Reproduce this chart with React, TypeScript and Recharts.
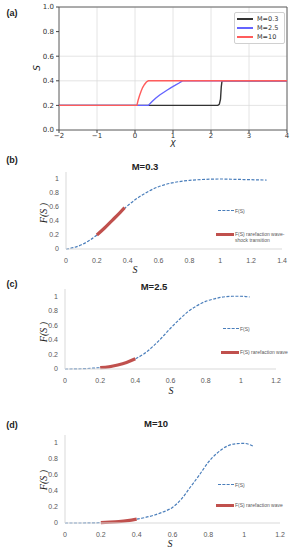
import React from "react";
import { LineChart, Line, XAxis, YAxis, CartesianGrid, ReferenceArea } from "recharts";

// ---- panel (a): saturation profiles S(X)
const A_X_TICKS = [-2, -1, 0, 1, 2, 3, 4];
const A_Y_TICKS = [0, 0.2, 0.4, 0.6, 0.8, 1.0];
const A_M03_X = [-2, 2.18, 2.22, 2.25, 2.27, 2.29, 4];
const A_M03_Y = [0.2, 0.2, 0.21, 0.25, 0.35, 0.4, 0.4];
const A_M25_X = [-2, 0.35, 0.45, 0.55, 0.65, 0.75, 0.85, 0.95, 1.05, 1.15, 1.25, 4];
const A_M25_Y = [0.2, 0.2, 0.232, 0.26, 0.285, 0.305, 0.325, 0.345, 0.362, 0.38, 0.4, 0.4];
const A_M10_X = [-2, 0.05, 0.08, 0.12, 0.16, 0.2, 0.25, 0.3, 0.35, 4];
const A_M10_Y = [0.2, 0.2, 0.24, 0.28, 0.315, 0.345, 0.37, 0.39, 0.4, 0.4];

// ---- panels (b)-(d): fractional flow F(S)
const F_Y_TICKS = [0, 0.2, 0.4, 0.6, 0.8, 1];
const B_X_TICKS = [0, 0.2, 0.4, 0.6, 0.8, 1, 1.2, 1.4];
const CD_X_TICKS = [0, 0.2, 0.4, 0.6, 0.8, 1, 1.2];

const B_S = [0, 0.05, 0.1, 0.15, 0.2, 0.25, 0.3, 0.35, 0.4, 0.5, 0.6, 0.7, 0.8, 0.9, 1.0, 1.1, 1.2, 1.3];
const B_F = [0, 0.02, 0.06, 0.12, 0.2, 0.3, 0.41, 0.52, 0.62, 0.78, 0.89, 0.95, 0.98, 0.995, 1.0, 0.995, 0.99, 0.985];
const B_RED_S = [0.2, 0.25, 0.3, 0.35, 0.38];
const B_RED_F = [0.2, 0.3, 0.41, 0.52, 0.59];

const C_S = [0, 0.05, 0.1, 0.15, 0.2, 0.25, 0.3, 0.35, 0.4, 0.45, 0.5, 0.55, 0.6, 0.65, 0.7, 0.75, 0.8, 0.85, 0.9, 0.95, 1.0, 1.05];
const C_F = [0, 0.001, 0.004, 0.01, 0.018, 0.03, 0.055, 0.09, 0.14, 0.21, 0.31, 0.43, 0.56, 0.68, 0.79, 0.87, 0.93, 0.965, 0.99, 1.0, 1.0, 0.99];
const C_RED_S = [0.2, 0.25, 0.3, 0.35, 0.4];
const C_RED_F = [0.018, 0.03, 0.055, 0.09, 0.14];

const D_S = [0, 0.1, 0.2, 0.25, 0.3, 0.35, 0.4, 0.45, 0.5, 0.55, 0.6, 0.65, 0.7, 0.75, 0.8, 0.85, 0.9, 0.95, 1.0, 1.05];
const D_F = [0, 0.0003, 0.004, 0.01, 0.018, 0.03, 0.048, 0.07, 0.1, 0.14, 0.195, 0.3, 0.45, 0.6, 0.76, 0.875, 0.955, 0.99, 0.995, 0.96];
const D_RED_S = [0.2, 0.25, 0.3, 0.35, 0.4];
const D_RED_F = [0.004, 0.01, 0.018, 0.03, 0.048];

const zip = (xs: number[], ys: number[]) => xs.map((x, i) => ({ x, y: ys[i] }));

const MPL = "'DejaVu Sans', sans-serif";
const XL = "'Liberation Sans', Arial, sans-serif";

function Txt({ x, y, children, size = 8, bold = false, italic = false, rotate = 0, family = XL, color = "#222", anchor = "center" }: any) {
  const tx = anchor === "left" ? "0" : "-50%";
  return (
    <div
      style={{
        position: "absolute",
        left: x,
        top: y,
        transform: `translate(${tx}, -50%) rotate(${rotate}deg)`,
        fontSize: size,
        fontWeight: bold ? 700 : 400,
        fontStyle: italic ? "italic" : "normal",
        fontFamily: family,
        color,
        whiteSpace: "nowrap",
        lineHeight: 1,
      }}
    >
      {children}
    </div>
  );
}

const minus = (v: number) => (v < 0 ? "\u2212" + Math.abs(v) : String(v));

function PanelA() {
  return (
    <div style={{ position: "absolute", left: 0, top: 0 }}>
      <LineChart width={294} height={150} margin={{ top: 7, right: 7, bottom: 6, left: 29 }}>
        <CartesianGrid stroke="#dddddd" strokeWidth={0.8} />
        <XAxis
          type="number"
          dataKey="x"
          domain={[-2, 4]}
          ticks={A_X_TICKS}
          tickFormatter={minus}
          height={14}
          tickSize={3}
          tickMargin={0}
          axisLine={false}
          tickLine={{ stroke: "#444" }}
          tick={{ fontSize: 7, fill: "#333", fontFamily: MPL }}
        />
        <YAxis
          type="number"
          domain={[0, 1]}
          ticks={A_Y_TICKS}
          tickFormatter={(v: number) => v.toFixed(1)}
          width={30}
          tickSize={3}
          tickMargin={2}
          axisLine={false}
          tickLine={{ stroke: "#444" }}
          tick={{ fontSize: 7, fill: "#333", fontFamily: MPL }}
        />
        <Line data={zip(A_M03_X, A_M03_Y)} dataKey="y" stroke="#333333" strokeWidth={1.4} dot={false} isAnimationActive={false} />
        <Line data={zip(A_M25_X, A_M25_Y)} dataKey="y" stroke="#6464ff" strokeWidth={1.4} dot={false} isAnimationActive={false} />
        <Line data={zip(A_M10_X, A_M10_Y)} dataKey="y" stroke="#ff5c5c" strokeWidth={1.4} dot={false} isAnimationActive={false} />
        <ReferenceArea x1={-2} x2={4} y1={0} y2={1} fill="none" stroke="#555" strokeWidth={0.9} ifOverflow="visible" />
      </LineChart>
      <div
        style={{
          position: "absolute",
          left: 234,
          top: 12,
          width: 49,
          height: 30,
          border: "1px solid #d0d0d0",
          borderRadius: 2,
          background: "#fff",
        }}
      >
        {[
          ["M=0.3", "#333333"],
          ["M=2.5", "#6464ff"],
          ["M=10", "#ff5c5c"],
        ].map(([name, c], i) => (
          <div key={name} style={{ position: "absolute", left: 2, top: 3 + i * 9, height: 6, display: "flex", alignItems: "center" }}>
            <span style={{ display: "inline-block", width: 16, height: 1.5, background: c }} />
            <span style={{ marginLeft: 4, fontSize: 6.5, fontFamily: MPL, color: "#333" }}>{name}</span>
          </div>
        ))}
      </div>
      <Txt x={12} y={13} size={9} bold family={XL}>(a)</Txt>
      <Txt x={37} y={68} size={9} italic rotate={-90} family={MPL}>S</Txt>
      <Txt x={173} y={145} size={8} italic family={MPL}>X</Txt>
    </div>
  );
}

function FPanel({ top, height, margin, xMax, xTicks, curve, red, label, labelY, title, titleX, titleY, yLabelY, sX, sY, legend, redText }: any) {
  return (
    <div style={{ position: "absolute", left: 0, top }}>
      <LineChart width={294} height={height} margin={margin}>
        <XAxis
          type="number"
          dataKey="x"
          domain={[0, xMax]}
          ticks={xTicks}
          height={16}
          tickLine={false}
          tickSize={6}
          tickMargin={3}
          axisLine={{ stroke: "#d9d9d9" }}
          tick={{ fontSize: 7, fill: "#595959", fontFamily: XL }}
        />
        <YAxis
          type="number"
          domain={[0, 1.1]}
          ticks={F_Y_TICKS}
          width={20}
          tickLine={false}
          tickSize={5}
          tickMargin={2}
          axisLine={{ stroke: "#d9d9d9" }}
          tick={{ fontSize: 7, fill: "#595959", fontFamily: XL }}
        />
        <Line data={curve} dataKey="y" type="monotone" stroke="#4a7ebb" strokeWidth={1.2} strokeDasharray="3 1.5" dot={false} isAnimationActive={false} />
        <Line data={red} dataKey="y" type="monotone" stroke="#c0504d" strokeWidth={3.2} dot={false} isAnimationActive={false} />
      </LineChart>
      <Txt x={12} y={labelY} size={9} bold>{label}</Txt>
      <Txt x={titleX} y={titleY} size={9.5} bold>{title}</Txt>
      <Txt x={44} y={yLabelY} size={10} italic rotate={-90} family="'Liberation Serif', serif">F(S )</Txt>
      <Txt x={sX} y={sY} size={10} italic family="'Liberation Serif', serif">S</Txt>
      <div style={{ position: "absolute", left: legend.x, top: legend.y1 - 1, width: 16, height: 0, borderTop: "1.2px dashed #4a7ebb" }} />
      <Txt x={legend.x + 17} y={legend.y1} size={5} color="#595959" anchor="left">F(S)</Txt>
      <div style={{ position: "absolute", left: legend.x - 2, top: legend.y2 - 1.5, width: 18, height: 3, background: "#c0504d" }} />
      <Txt x={legend.x + 17} y={legend.y2} size={5} color="#595959" anchor="left">{redText[0]}</Txt>
      {redText[1] && (
        <Txt x={legend.x + 17} y={legend.y2 + 6} size={5} color="#595959" anchor="left">{redText[1]}</Txt>
      )}
    </div>
  );
}

export default function App() {
  return (
    <div style={{ position: "absolute", left: 0, top: 0, width: 294, height: 550, background: "#fff", overflow: "hidden" }}>
      <PanelA />
      <FPanel
        top={140}
        height={135}
        margin={{ top: 32, right: 12, bottom: 10, left: 46 }}
        xMax={1.4}
        xTicks={B_X_TICKS}
        curve={zip(B_S, B_F)}
        red={zip(B_RED_S, B_RED_F)}
        label="(b)"
        labelY={20}
        title="M=0.3"
        titleX={145}
        titleY={27}
        yLabelY={73}
        sX={135}
        sY={130}
        legend={{ x: 218, y1: 71, y2: 94 }}
        redText={["F(S) rarefaction wave-", "shock transition"]}
      />
      <FPanel
        top={275}
        height={135}
        margin={{ top: 14, right: 18, bottom: 25, left: 45 }}
        xMax={1.2}
        xTicks={CD_X_TICKS}
        curve={zip(C_S, C_F)}
        red={zip(C_RED_S, C_RED_F)}
        label="(c)"
        labelY={9}
        title="M=2.5"
        titleX={154}
        titleY={12}
        yLabelY={57}
        sX={171}
        sY={116}
        legend={{ x: 223, y1: 54, y2: 77 }}
        redText={["F(S) rarefaction wave"]}
      />
      <FPanel
        top={410}
        height={140}
        margin={{ top: 25, right: 14, bottom: 11, left: 45 }}
        xMax={1.2}
        xTicks={CD_X_TICKS}
        curve={zip(D_S, D_F)}
        red={zip(D_RED_S, D_RED_F)}
        label="(d)"
        labelY={15}
        title="M=10"
        titleX={156}
        titleY={14}
        yLabelY={70}
        sX={170}
        sY={134}
        legend={{ x: 218, y1: 75, y2: 95 }}
        redText={["F(S) rarefaction wave"]}
      />
    </div>
  );
}
